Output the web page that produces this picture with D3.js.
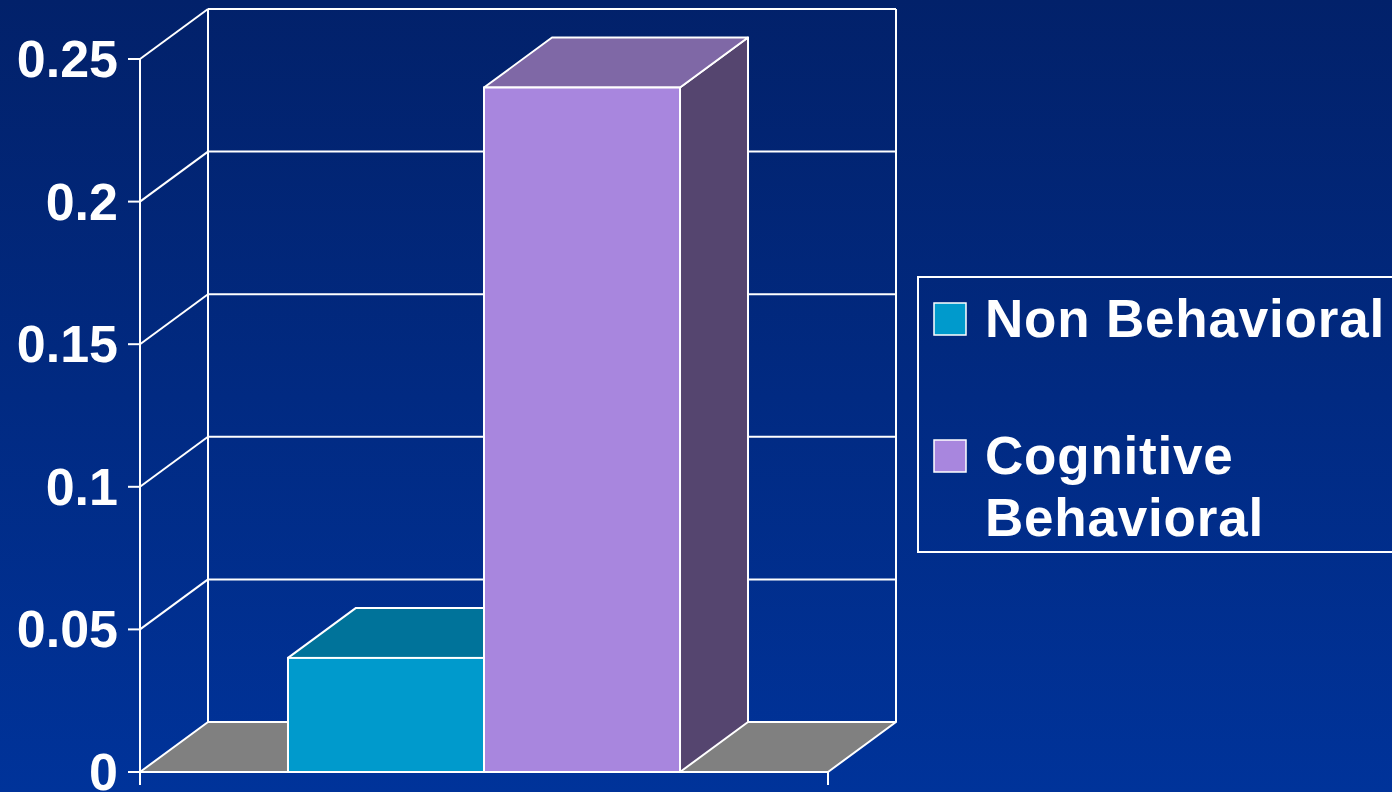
<!DOCTYPE html>
<html><head><meta charset="utf-8">
<script src="https://cdn.jsdelivr.net/npm/d3@7"></script>
<style>html,body{margin:0;padding:0;background:#00297f;}svg{display:block;}</style>
</head><body>
<svg id="chart" width="1392" height="792"></svg>
<script>
const categories = ["Treatment"];
const series = ["Non Behavioral", "Cognitive Behavioral"];
const values = [0.04, 0.24];
const yTicks = [0, 0.05, 0.1, 0.15, 0.2, 0.25];
const yTickLabels = ["0", "0.05", "0.1", "0.15", "0.2", "0.25"];
const frontColors = ["#009ACC", "#A886DE"];
const topColors = ["#00739A", "#7F68A6"];
const sideColors = ["#005A78", "#55456F"];
const legendLines = [["Non Behavioral"], ["Cognitive", "Behavioral"]];

const svg = d3.select("#chart");
const W = 1392, H = 792;
const font = "'Liberation Sans', Arial, sans-serif";

const defs = svg.append("defs");
const grad = defs.append("linearGradient").attr("id","bg").attr("x1",0).attr("y1",0).attr("x2",0).attr("y2",1);
grad.append("stop").attr("offset","0%").attr("stop-color","#02216a");
grad.append("stop").attr("offset","100%").attr("stop-color","#00339a");
svg.append("rect").attr("width",W).attr("height",H).attr("fill","url(#bg)");

const left = 140, right = 828, bottom = 772;
const dx = 68, dy = -50;
const y = d3.scaleLinear().domain([0, 0.25]).range([bottom, 59]);
const x0 = d3.scaleBand().domain(categories).range([left, right]);
const x1 = d3.scaleBand().domain(series).range([0, x0.bandwidth()]).paddingInner(0).paddingOuter(0.755);

const line = "#ffffff";
const g = svg.append("g");

// floor
g.append("path")
 .attr("d", `M${left},${bottom}L${right},${bottom}L${right+dx},${bottom+dy}L${left+dx},${bottom+dy}Z`)
 .attr("fill","#808080").attr("stroke",line).attr("stroke-width",2).attr("stroke-linejoin","round");

// back wall gridlines and side-wall diagonals
yTicks.forEach(t => {
  const yy = y(t);
  if (t > 0) {
    g.append("line").attr("x1",left+dx).attr("x2",right+dx).attr("y1",yy+dy).attr("y2",yy+dy)
      .attr("stroke",line).attr("stroke-width",2);
    g.append("line").attr("x1",left).attr("y1",yy).attr("x2",left+dx).attr("y2",yy+dy)
      .attr("stroke",line).attr("stroke-width",2);
  }
});
// back wall verticals
g.append("line").attr("x1",left+dx).attr("x2",left+dx).attr("y1",y(0.25)+dy).attr("y2",bottom+dy).attr("stroke",line).attr("stroke-width",2);
g.append("line").attr("x1",right+dx).attr("x2",right+dx).attr("y1",y(0.25)+dy).attr("y2",bottom+dy).attr("stroke",line).attr("stroke-width",2);

// bars
series.forEach((s, i) => {
  const xl = x0(categories[0]) + x1(s);
  const xr = xl + x1.bandwidth();
  const yt = y(values[i]);
  const bg = g.append("g");
  bg.append("path").attr("d", `M${xr},${yt}L${xr+dx},${yt+dy}L${xr+dx},${bottom+dy}L${xr},${bottom}Z`)
    .attr("fill", sideColors[i]).attr("stroke",line).attr("stroke-width",2).attr("stroke-linejoin","round");
  bg.append("path").attr("d", `M${xl},${yt}L${xl+dx},${yt+dy}L${xr+dx},${yt+dy}L${xr},${yt}Z`)
    .attr("fill", topColors[i]).attr("stroke",line).attr("stroke-width",2).attr("stroke-linejoin","round");
  bg.append("rect").attr("x",xl).attr("y",yt).attr("width",xr-xl).attr("height",bottom-yt)
    .attr("fill", frontColors[i]).attr("stroke",line).attr("stroke-width",2);
});

// front axes
g.append("line").attr("x1",left).attr("x2",left).attr("y1",y(0.25)).attr("y2",bottom+13).attr("stroke",line).attr("stroke-width",2);
g.append("line").attr("x1",left).attr("x2",right).attr("y1",bottom).attr("y2",bottom).attr("stroke",line).attr("stroke-width",2);
g.append("line").attr("x1",right).attr("x2",right).attr("y1",bottom).attr("y2",bottom+13).attr("stroke",line).attr("stroke-width",2);

yTicks.forEach((t, i) => {
  const yy = y(t);
  g.append("line").attr("x1",left-12).attr("x2",left).attr("y1",yy).attr("y2",yy).attr("stroke",line).attr("stroke-width",2);
  g.append("text").attr("x",118).attr("y",yy+18).attr("text-anchor","end")
    .attr("font-family",font).attr("font-weight","bold").attr("font-size",52).attr("fill","#fff")
    .text(yTickLabels[i]);
});

// legend
const lg = svg.append("g");
lg.append("rect").attr("x",918).attr("y",277).attr("width",500).attr("height",275)
  .attr("fill","none").attr("stroke",line).attr("stroke-width",2);
const legendY = [303, 440];
series.forEach((s, i) => {
  lg.append("rect").attr("x",934).attr("y",legendY[i]).attr("width",32).attr("height",32)
    .attr("fill",frontColors[i]).attr("stroke",line).attr("stroke-width",1.5);
  legendLines[i].forEach((t, j) => {
    lg.append("text").attr("x",985).attr("y",legendY[i]+34+j*62)
      .attr("font-family",font).attr("font-weight","bold").attr("font-size",53)
      .attr("letter-spacing",0.8).attr("fill","#fff")
      .text(t);
  });
});
</script>
</body></html>
